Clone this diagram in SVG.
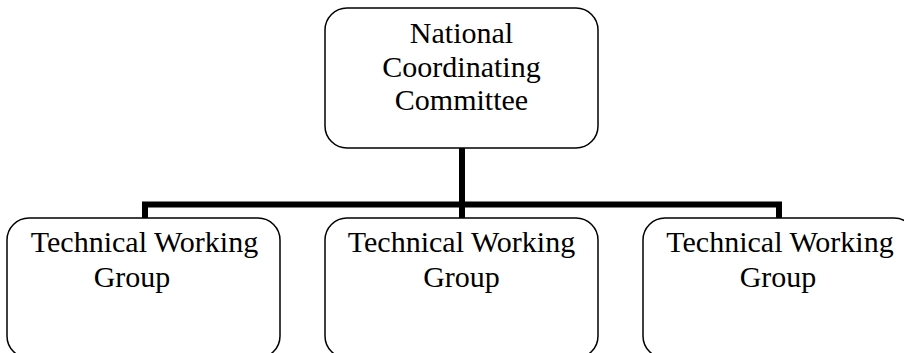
<svg xmlns="http://www.w3.org/2000/svg" width="904" height="353" viewBox="0 0 904 353">
<style>
.box{fill:#fff;stroke:#000;stroke-width:1.5}
.t{font-family:"Liberation Serif","Times New Roman",serif;font-size:30px;fill:#000;text-anchor:middle}
.c{fill:none;stroke:#000;stroke-width:6;stroke-linejoin:miter}
</style>
<rect width="904" height="353" fill="#fff"/>
<g id="connectors">
<path class="c" d="M462,148 V204.5"/>
<path class="c" d="M145,219 V204.5 H779 V219"/>
<path class="c" d="M462,204.5 V219"/>
</g>
<g id="ncc">
<rect class="box" x="325" y="8" width="273" height="140" rx="22" ry="22"/>
<text class="t" x="461.5" y="43">National</text>
<text class="t" x="461.5" y="77">Coordinating</text>
<text class="t" x="461.5" y="110">Committee</text>
</g>
<g id="twg1">
<rect class="box" x="7" y="218" width="273" height="140" rx="22" ry="22"/>
<text class="t" x="144.5" y="252">Technical Working</text>
<text class="t" x="132" y="287">Group</text>
</g>
<g id="twg2">
<rect class="box" x="325" y="218" width="273" height="140" rx="22" ry="22"/>
<text class="t" x="461.5" y="252">Technical Working</text>
<text class="t" x="461.5" y="287">Group</text>
</g>
<g id="twg3">
<rect class="box" x="643" y="218" width="273" height="140" rx="22" ry="22"/>
<text class="t" x="780" y="252">Technical Working</text>
<text class="t" x="778" y="287">Group</text>
</g>
</svg>
